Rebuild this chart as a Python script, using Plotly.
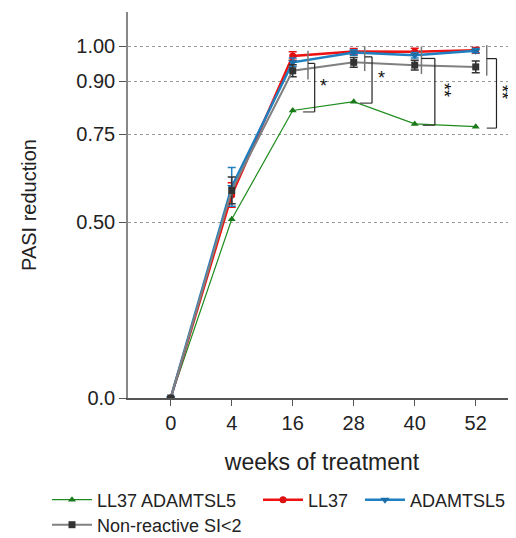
import plotly.graph_objects as go

weeks = ["0", "4", "16", "28", "40", "52"]
ll37_adamtsl5 = [0.0, 0.508, 0.817, 0.842, 0.779, 0.771]
ll37 = [0.0, 0.577, 0.972, 0.985, 0.984, 0.988]
ll37_err = [0.0, 0.035, 0.012, 0.008, 0.010, 0.008]
adamtsl5 = [0.0, 0.600, 0.954, 0.982, 0.974, 0.987]
adamtsl5_err = [0.0, 0.055, 0.012, 0.008, 0.008, 0.006]
nonreactive = [0.0, 0.590, 0.930, 0.954, 0.946, 0.941]
nonreactive_err = [0.0, 0.038, 0.017, 0.014, 0.014, 0.017]
y_ticks = [0.0, 0.5, 0.75, 0.9, 1.0]
y_ticktext = ["0.0", "0.50", "0.75", "0.90", "1.00"]
stars = ["*", "*", "**", "**"]
star_idx = [2, 3, 4, 5]

xi = list(range(len(weeks)))
FONT = "Liberation Sans, Arial, sans-serif"

# page body has an 8px margin: figure starts at screen (8, 8)
OFF = 8
W, H = 516 - OFF, 538 - OFF
L, R, T, B = 128 - OFF, 0, 12 - OFF, H - (398 - OFF)
PW, PH = W - L - R, H - T - B
def px(x_screen):
    return (x_screen - OFF - L) / PW
def py(y_screen):
    return (H - B - (y_screen - OFF)) / PH

fig = go.Figure()
fig.add_trace(go.Scatter(x=xi, y=ll37_adamtsl5, name="LL37 ADAMTSL5", mode="lines+markers",
                         line=dict(color="#1e8c1e", width=1.2), legend="legend",
                         marker=dict(symbol="triangle-up", size=7, color="#1a7a1a")))
fig.add_trace(go.Scatter(x=xi, y=ll37, name="LL37", mode="lines+markers", legend="legend2",
                         line=dict(color="#ee1111", width=2.5),
                         marker=dict(symbol="circle", size=7, color="#dd1111"),
                         error_y=dict(type="data", array=ll37_err, color="#ee1111", thickness=1.5, width=4)))
fig.add_trace(go.Scatter(x=xi, y=adamtsl5, name="ADAMTSL5", mode="lines+markers", legend="legend3",
                         line=dict(color="#1f7fc0", width=2.5),
                         marker=dict(symbol="triangle-down", size=8, color="#1a6fa8"),
                         error_y=dict(type="data", array=adamtsl5_err, color="#1f7fc0", thickness=1.5, width=4)))
fig.add_trace(go.Scatter(x=xi, y=nonreactive, name="Non-reactive SI<2", mode="lines+markers", legend="legend4",
                         line=dict(color="#808080", width=2),
                         marker=dict(symbol="square", size=7, color="#333333"),
                         error_y=dict(type="data", array=nonreactive_err, color="#333333", thickness=1.5, width=4)))

gray_dx = [0.25, 0.18, 0.11, 0.18]
right_dx = [0.36, 0.30, 0.33, 0.34]
left_dx = [0.17, 0.10, 0.13, 0.18]
star_dx = [0.14, 0.15, 0.15, 0.10]
shapes = []
annotations = []
for k, i in enumerate(star_idx):
    up_top = max(ll37[i], adamtsl5[i]) + 0.015
    up_bot = nonreactive[i] - 0.025
    top_y = (max(ll37[i], adamtsl5[i]) + nonreactive[i]) / 2
    bot_y = ll37_adamtsl5[i] - 0.004
    xg = i + gray_dx[k]
    xr = i + right_dx[k]
    xl = i + left_dx[k]
    shapes.append(dict(type="line", xref="x", yref="y", x0=xg, x1=xg, y0=up_bot, y1=up_top,
                       line=dict(color="#777777", width=1.5)))
    shapes.append(dict(type="line", xref="x", yref="y", x0=xg, x1=xr, y0=top_y, y1=top_y,
                       line=dict(color="#222222", width=1.2)))
    shapes.append(dict(type="line", xref="x", yref="y", x0=xr, x1=xr, y0=top_y, y1=bot_y,
                       line=dict(color="#222222", width=1.2)))
    shapes.append(dict(type="line", xref="x", yref="y", x0=xl, x1=xr, y0=bot_y, y1=bot_y,
                       line=dict(color="#444444", width=1.2)))
    rotated = len(stars[k]) > 1
    annotations.append(dict(x=xr + star_dx[k], y=(top_y + bot_y) / 2 + 0.005, xref="x", yref="y",
                            text=stars[k], showarrow=False, textangle=90 if rotated else 0,
                            font=dict(family=FONT, size=18, color="#111111")))

leg_common = dict(orientation="h", xanchor="left", yanchor="middle", itemwidth=40,
                  bgcolor="rgba(0,0,0,0)", font=dict(family=FONT, size=18, color="#222222"))
fig.update_layout(
    width=W, height=H,
    margin=dict(l=L, r=R, t=T, b=B, autoexpand=False),
    plot_bgcolor="white", paper_bgcolor="white",
    font=dict(family=FONT, color="#222222"),
    shapes=shapes, annotations=annotations,
    showlegend=True,
    legend=dict(x=px(47), y=py(500), **leg_common),
    legend2=dict(x=px(258), y=py(500), **leg_common),
    legend3=dict(x=px(360), y=py(500), **leg_common),
    legend4=dict(x=px(47), y=py(525), **leg_common),
)
fig.update_xaxes(range=[-0.7, 5.66], tickvals=xi, ticktext=weeks, showgrid=False, zeroline=False,
                 automargin=False,
                 showline=True, linecolor="#555555", linewidth=1.5, ticks="outside", ticklen=6,
                 tickcolor="#555555", tickfont=dict(size=20, family=FONT),
                 title=dict(text="weeks of treatment", font=dict(size=23, family=FONT), standoff=21))
fig.update_yaxes(range=[0, 1.097], tickvals=y_ticks, ticktext=y_ticktext, showgrid=True,
                 automargin=False,
                 gridcolor="#999999", griddash="dot", gridwidth=1, zeroline=False,
                 showline=True, linecolor="#888888", linewidth=1.5, ticks="outside", ticklen=7,
                 tickcolor="#555555", tickfont=dict(size=20, family=FONT),
                 title=dict(text="PASI reduction", font=dict(size=20, family=FONT), standoff=34))

fig.write_html("out.html")
